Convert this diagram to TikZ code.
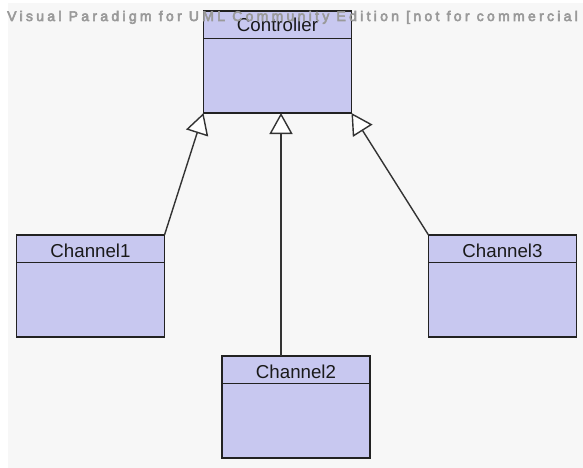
\documentclass[tikz,border=0pt]{standalone}
\usepackage{fontspec}
\setmainfont{Liberation Sans}
\newfontfamily\wmfont[LetterSpace=23.5]{Liberation Sans}
\usetikzlibrary{arrows.meta}
\definecolor{bgc}{HTML}{F7F7F7}
\definecolor{boxfill}{RGB}{200,200,240}
\definecolor{boxline}{HTML}{222222}
\definecolor{lnk}{HTML}{333333}
\definecolor{txt}{HTML}{1A1A1A}
\definecolor{wm}{HTML}{9A9A9A}
\newcommand\strokedtext[1]{\special{pdf:literal direct 2 Tr 0.55 w}#1\special{pdf:literal direct 0 Tr}}
\begin{document}
\begin{tikzpicture}[x=1pt,y=1pt,
  cls/.style={draw=boxline, fill=boxfill, line width=1.4pt, minimum width=148pt, minimum height=102pt, inner sep=0pt, outer sep=0pt, anchor=north west},
  hdr/.style={draw=boxline, line width=1.4pt},
  lbl/.style={font=\fontsize{18.7}{20}\selectfont, text=txt, anchor=base, inner sep=0pt},
  gen/.style={draw=lnk, line width=1.4pt, -{Triangle[length=21pt,width=23pt,fill=white,line width=1.4pt]}}]
\useasboundingbox (0,0) rectangle (583,-468);
\clip (0,0) rectangle (583,-468);
\fill[white] (0,0) rectangle (583,-468);
\fill[bgc] (8,-3) rectangle (583,-468);
% classes
\node[cls] (ctrl) at (203.5,-11) {};
\node[cls] (ch1) at (16.5,-235) {};
\node[cls] (ch2) at (222,-356) {};
\node[cls] (ch3) at (428.5,-235) {};
\foreach \n in {ctrl,ch1,ch2,ch3}{
  \draw[hdr] ([yshift=-27.5pt]\n.north west) -- ([yshift=-27.5pt]\n.north east);
}
\node[lbl] (ctrlT) at ([yshift=-21pt]ctrl.north) {Controller};
\node[lbl] (ch1T) at ([yshift=-22pt]ch1.north) {Channel1};
\node[lbl] (ch2T) at ([yshift=-22pt]ch2.north) {Channel2};
\node[lbl] (ch3T) at ([yshift=-22pt]ch3.north) {Channel3};
% generalizations
\coordinate (mid) at (281,0);
\draw[gen] (ch1.north east) -- (ctrl.south west);
\draw[gen] (ch2.north -| mid) -- (ctrl.south -| mid);
\draw[gen] (ch3.north west) -- (ctrl.south east);
% watermark
\node[anchor=base west, inner sep=0pt, text=wm, draw=none, font=\wmfont\fontsize{14}{15}\selectfont] (wmark) at (7,-21) {\strokedtext{Visual Paradigm for UML Community Edition [not for commercial use]}};
\end{tikzpicture}
\end{document}
